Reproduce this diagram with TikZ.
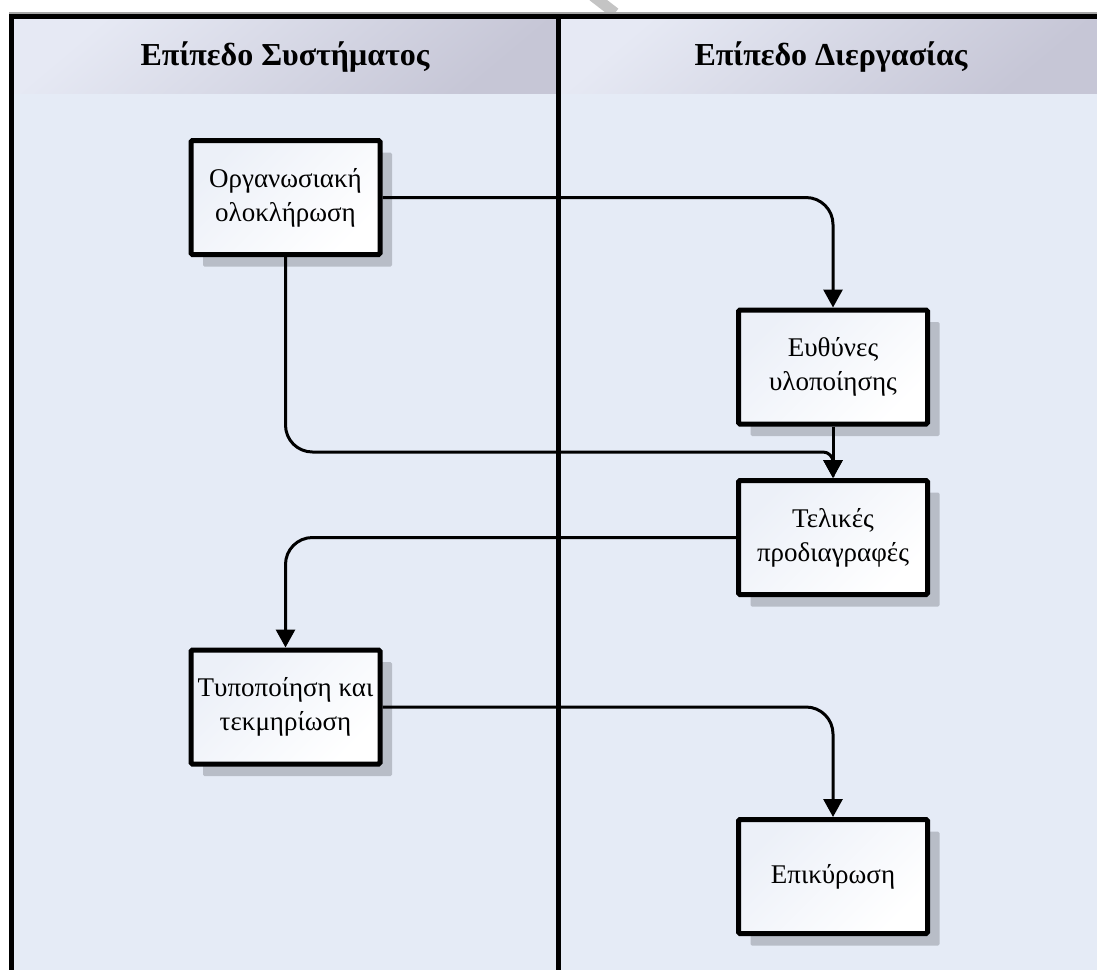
\documentclass[tikz,border=0pt]{standalone}
\usepackage{fontspec}
\setmainfont{Liberation Serif}
\usetikzlibrary{arrows.meta,shadows}

\definecolor{lanebg}{HTML}{E5EBF6}
\definecolor{headlight}{HTML}{E6E9F4}
\definecolor{headdark}{HTML}{C6C6D6}
\definecolor{shadowgray}{HTML}{B8BDC7}
\definecolor{boxtint}{HTML}{ECF0F8}
\definecolor{markgray}{HTML}{C4C4C4}

\begin{document}
\begin{tikzpicture}[x=1pt,y=-1pt,
  header/.style={font=\fontsize{32}{36}\selectfont\bfseries},
  task/.style={draw, line width=5pt, minimum width=189pt, minimum height=114pt,
    align=center, font=\fontsize{27}{34}\selectfont, inner sep=2pt,
    top color=boxtint, bottom color=white, shading angle=45,
    rounded corners=1.5pt,
    drop shadow={shadow xshift=12pt, shadow yshift=-12pt, fill=shadowgray, opacity=1}},
  conn/.style={line width=3pt, -{Triangle[length=18pt,width=19pt]}},
  frame/.style={line width=5pt},
]
\useasboundingbox (0,0) rectangle (1097,970);

% lane bodies
\fill[lanebg] (11.5,93) rectangle (1097,970);
% lane headers
\shade[top color=headlight, bottom color=headdark, shading angle=40] (11.5,16.5) rectangle (558.5,93);
\shade[top color=headlight, bottom color=headdark, shading angle=40] (558.5,16.5) rectangle (1097,93);

% small grey stroke above the frame
\draw[markgray, line width=11pt] (593,-4) -- (615,13);

% frame and lane separator
\draw[gray!70, line width=1.5pt] (9,13) -- (1097,13);
\draw[frame] (9,16.5) -- (1097,16.5);
\draw[frame] (11.5,14) -- (11.5,970);
\draw[frame] (558.5,14) -- (558.5,970);

\node[header] (h1) at (285,57) {Επίπεδο Συστήματος};
\node[header] (h2) at (831,57) {Επίπεδο Διεργασίας};

% process steps
\node[task] (b1) at (285.5,197.5) {Οργανωσιακή\\ολοκλήρωση};
\node[task] (b2) at (833,367) {Ευθύνες\\υλοποίησης};
\node[task] (b3) at (833,537.5) {Τελικές\\προδιαγραφές};
\node[task] (b4) at (285.5,707) {Τυποποίηση και\\τεκμηρίωση};
\node[task] (b5) at (833,876.5) {Επικύρωση};

% connectors
\draw[conn, rounded corners=27pt] (b1.east) -| (b2.north);
\draw[conn] (b2.south) -- (b3.north);
\draw[conn] (b1.south) -- (285.5,425)
  .. controls (285.5,440) and (297.5,452) .. (312.5,452)
  -- (823,452) .. controls (828.5,452) and (833,456.5) .. (833,462)
  -- (b3.north);
\draw[conn, rounded corners=27pt] (b3.west) -| (b4.north);
\draw[conn, rounded corners=27pt] (b4.east) -| (b5.north);
\end{tikzpicture}
\end{document}
